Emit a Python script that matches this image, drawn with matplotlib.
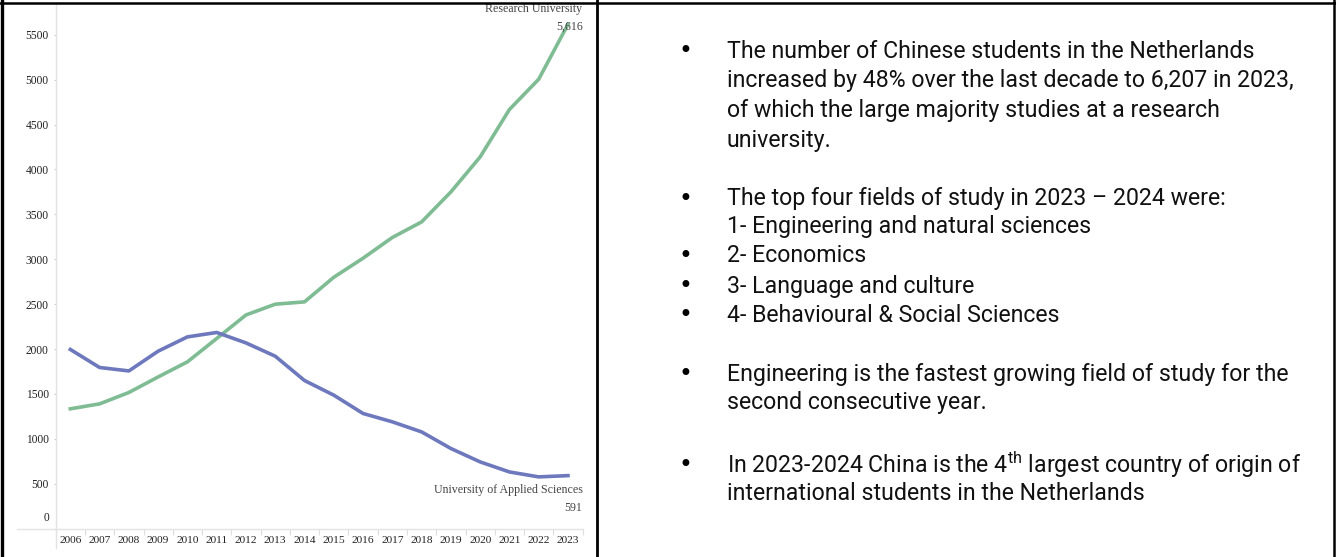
import numpy as np
import matplotlib.pyplot as plt
from matplotlib.lines import Line2D

# data
years = list(range(2006, 2024))
research = [1335, 1390, 1517, 1690, 1858, 2118, 2380, 2500, 2526, 2800,
            3012, 3243, 3416, 3750, 4140, 4668, 5005, 5616]
applied = [1996, 1795, 1757, 1977, 2136, 2185, 2069, 1921, 1650, 1487,
           1283, 1190, 1078, 893, 744, 632, 577, 591]
yticks = [0, 500, 1000, 1500, 2000, 2500, 3000, 3500, 4000, 4500, 5000, 5500]

green = "#7fbc94"
blue = "#6e79bd"
serif = "Liberation Serif"
sans = "Roboto"

W, H = 1336, 557
fig = plt.figure(figsize=(W / 100, H / 100), dpi=100)

# chart axes, placed in pixel terms
x0, x1 = 55.7, 582.6
ytop, ybot = 3, 528.7
ax = fig.add_axes([x0 / W, (H - ybot) / H, (x1 - x0) / W, (ybot - ytop) / H])

ax.plot(years, research, color=green, lw=2.6, solid_joinstyle="round")
ax.plot(years, applied, color=blue, lw=2.6, solid_joinstyle="round")

ax.set_xlim(2005.5, 2023.5)
ax.set_ylim(0, 5854)

for s in ["top", "right"]:
    ax.spines[s].set_visible(False)
ax.spines["left"].set_color("#e3e3e3")
ax.spines["bottom"].set_color("#e3e3e3")
ax.spines["left"].set_linewidth(1)
ax.spines["bottom"].set_linewidth(1)

# extend the axis lines like the source
ax.add_line(Line2D([0, 0], [-0.037, 0], transform=ax.transAxes, color="#e3e3e3",
                   lw=1, clip_on=False))
ax.add_line(Line2D([-0.0735, 0], [0, 0], transform=ax.transAxes, color="#e3e3e3",
                   lw=1, clip_on=False))

ax.set_yticks(yticks)
# the zero label sits a bit above the axis in the source
ax.set_yticklabels([""] + [str(v) for v in yticks[1:]])
ax.annotate("0", xy=(0, 0), xycoords=("axes fraction", "data"),
            xytext=(-4.5, 8), textcoords="offset points", ha="right", va="center",
            fontsize=8.3, family=serif, color="#222222")
ax.tick_params(axis="y", length=1.5, width=0.8, color="#cccccc", pad=3.5,
               labelsize=8.3, labelcolor="#222222")
ax.set_xticks(years)
ax.set_xticklabels([str(y) for y in years])
ax.set_xticks(np.arange(2005.5, 2024, 1), minor=True)
ax.tick_params(axis="x", which="major", length=0, pad=5, labelsize=8.2,
               labelcolor="#222222")
ax.tick_params(axis="x", which="minor", length=4, width=0.8, color="#dddddd")
for lab in ax.get_xticklabels() + ax.get_yticklabels():
    lab.set_fontfamily(serif)

# line labels
lab_kw = dict(ha="right", va="center", fontsize=8.6, family=serif, color="#444444")
ax.text(2023.5, 5790, "Research University", **lab_kw)
ax.text(2023.5, 5587, f"{research[-1]:,}", **lab_kw)
ax.text(2023.5, 430, "University of Applied Sciences", **lab_kw)
ax.text(2023.5, 230, f"{applied[-1]:,}", **lab_kw)

# borders of the slide table
def vline(x, y0, y1, lw):
    fig.add_artist(Line2D([x / W, x / W], [1 - y0 / H, 1 - y1 / H], color="black", lw=lw))

def hline(y, xa, xb, lw):
    fig.add_artist(Line2D([xa / W, xb / W], [1 - y / H, 1 - y / H], color="black", lw=lw))

vline(1.5, 0, H, 2.4)
vline(597, 0, H, 2.0)
vline(1333.5, 0, H, 1.8)
hline(2.5, 0, W, 1.8)

# right hand text
lines = [
    (51, True, "The number of Chinese students in the Netherlands"),
    (81, False, "increased by 48% over the last decade to 6,207 in 2023,"),
    (110, False, "of which the large majority studies at a research"),
    (140, False, "university."),
    (199, True, "The top four fields of study in 2023 \u2013 2024 were:"),
    (227, False, "1- Engineering and natural sciences"),
    (256, True, "2- Economics"),
    (286, True, "3- Language and culture"),
    (315, True, "4- Behavioural & Social Sciences"),
    (374, True, "Engineering is the fastest growing field of study for the"),
    (403, False, "second consecutive year."),
    (465, True, r"In 2023-2024 China is the 4$^{\mathregular{th}}$ largest country of origin of"),
    (494, False, "international students in the Netherlands"),
]

# size the body text so the first line spans what it does in the source (~530 px)
renderer = fig.canvas.get_renderer()
probe = fig.text(0, 0, lines[0][2], fontsize=10, family=sans)
body_size = 10 * 530 / probe.get_window_extent(renderer).width
probe.remove()

for y, bullet, txt in lines:
    if bullet:
        fig.text(679 / W, 1 - y / H, "\u2022", ha="left", va="center",
                 fontsize=17, family="DejaVu Sans", color="black")
    fig.text(727 / W, 1 - y / H, txt, ha="left", va="center",
             fontsize=body_size, family=sans, color="#111111")

fig.savefig("out.png", dpi=100)
